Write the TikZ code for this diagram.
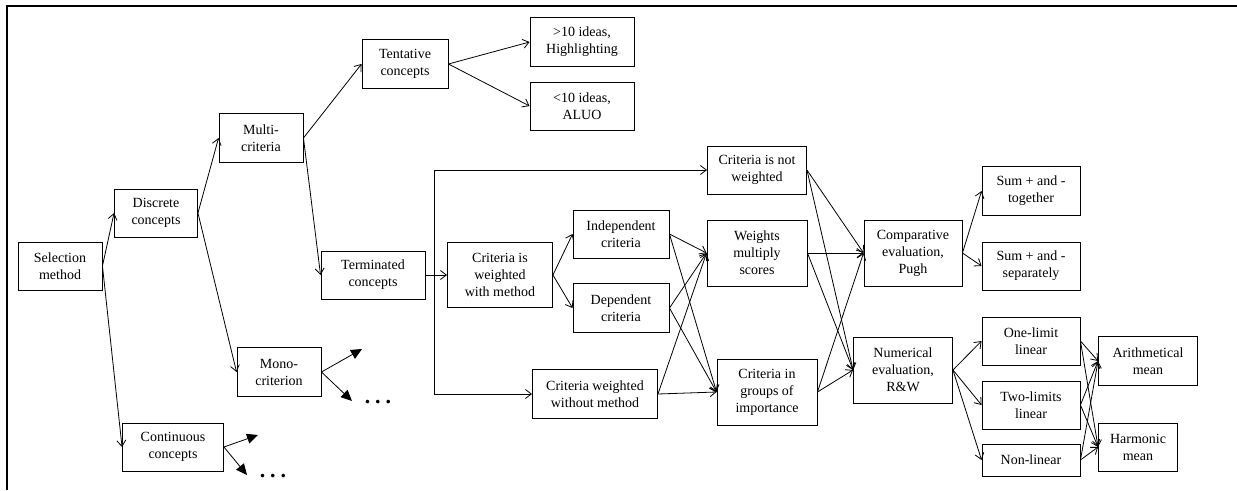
\documentclass[tikz,border=0pt]{standalone}
\usepackage{fontspec}
\setmainfont{Liberation Serif}
\usetikzlibrary{arrows.meta}
\begin{document}
\begin{tikzpicture}[x=1pt,y=-1pt,
  box/.style={draw, line width=0.9pt, inner sep=0pt, align=center,
    font=\fontsize{14}{17}\selectfont},
  conn/.style={line width=0.8pt, -{Straight Barb[length=6pt,width=9pt]}},
  bigarr/.style={line width=0.8pt, -{Triangle[length=11pt,width=10pt]}},
  dots/.style={inner sep=0pt, font=\fontsize{22}{22}\selectfont\bfseries}]
\useasboundingbox (0,0) rectangle (1237,490);
% frame
\draw[line width=1.2pt] (7,490) -- (7,6) -- (1237,6);
% nodes
\node[box, minimum width=84pt, minimum height=48pt] (sel) at (60,266) {Selection\\method};
\node[box, minimum width=83pt, minimum height=48pt] (disc) at (156,213) {Discrete\\concepts};
\node[box, minimum width=84pt, minimum height=49pt] (multi) at (261,138) {Multi-\\criteria};
\node[box, minimum width=86pt, minimum height=49pt] (tent) at (405,64) {Tentative\\concepts};
\node[box, minimum width=104pt, minimum height=49pt] (gt) at (582,42) {>10 ideas,\\Highlighting};
\node[box, minimum width=104pt, minimum height=48pt] (lt) at (582,106) {<10 ideas,\\ALUO};
\node[box, minimum width=104pt, minimum height=48pt] (term) at (373,275) {Terminated\\concepts};
\node[box, minimum width=84pt, minimum height=49pt] (mono) at (279,372) {Mono-\\criterion};
\node[box, minimum width=101pt, minimum height=48pt] (cont) at (173,447) {Continuous\\concepts};
\node[box, minimum width=105pt, minimum height=65pt] (cwm) at (500,275) {Criteria is\\weighted\\with method};
\node[box, minimum width=96pt, minimum height=48pt] (ind) at (621,234) {Independent\\criteria};
\node[box, minimum width=96pt, minimum height=49pt] (dep) at (621,308) {Dependent\\criteria};
\node[box, minimum width=125pt, minimum height=49pt] (cwo) at (595,394) {Criteria weighted\\without method};
\node[box, minimum width=99pt, minimum height=48pt] (cnw) at (757,170) {Criteria is not\\weighted};
\node[box, minimum width=100pt, minimum height=66pt] (wms) at (757,253) {Weights\\multiply\\scores};
\node[box, minimum width=100pt, minimum height=66pt] (cgi) at (767,392) {Criteria in\\groups of\\importance};
\node[box, minimum width=98pt, minimum height=66pt] (comp) at (913,253) {Comparative\\evaluation,\\Pugh};
\node[box, minimum width=99pt, minimum height=66pt] (num) at (903,370) {Numerical\\evaluation,\\R\&W};
\node[box, minimum width=98pt, minimum height=49pt] (sumt) at (1031,191) {Sum + and -\\together};
\node[box, minimum width=98pt, minimum height=48pt] (sums) at (1031,266) {Sum + and -\\separately};
\node[box, minimum width=98pt, minimum height=48pt] (one) at (1031,341) {One-limit\\linear};
\node[box, minimum width=98pt, minimum height=48pt] (two) at (1031,405) {Two-limits\\linear};
\node[box, minimum width=98pt, minimum height=32pt] (non) at (1031,460) {Non-linear};
\node[box, minimum width=99pt, minimum height=49pt] (ari) at (1148,361) {Arithmetical\\mean};
\node[box, minimum width=79pt, minimum height=48pt] (har) at (1138,447) {Harmonic\\mean};
% free ends
\coordinate (m1) at (362,349);
\coordinate (m2) at (352,401);
\coordinate (c1) at (258,435);
\coordinate (c2) at (247,475);
\node[dots, anchor=base] (d1) at (378,403) {.\hspace{5pt}.\hspace{5pt}.};
\node[dots, anchor=base] (d2) at (273,477) {.\hspace{5pt}.\hspace{5pt}.};
\coordinate (br) at (434,275);
% connectors
\draw[conn] (sel.east) -- (disc.west);
\draw[conn] (sel.east) -- (cont.west);
\draw[conn] (disc.east) -- (multi.west);
\draw[conn] (disc.east) -- (mono.west);
\draw[conn] (multi.east) -- (tent.west);
\draw[conn] (multi.east) -- (term.west);
\draw[conn] (tent.east) -- (gt.west);
\draw[conn] (tent.east) -- (lt.west);
\draw[bigarr] (mono.east) -- (m1);
\draw[bigarr] (mono.east) -- (m2);
\draw[bigarr] (cont.east) -- (c1);
\draw[bigarr] (cont.east) -- (c2);
\draw[conn] (term.east) -- (cwm.west);
\draw[conn] (br) |- (cnw.west);
\draw[conn] (br) |- (cwo.west);
\draw[conn] (cwm.east) -- (ind.west);
\draw[conn] (cwm.east) -- (dep.west);
\foreach \s in {ind,dep,cwo}{
  \draw[conn] (\s.east) -- (wms.west);
  \draw[conn] (\s.east) -- (cgi.west);
}
\foreach \s in {cnw,wms,cgi}{
  \draw[conn] (\s.east) -- (comp.west);
  \draw[conn] (\s.east) -- (num.west);
}
\draw[conn] (comp.east) -- (sumt.west);
\draw[conn] (comp.east) -- (sums.west);
\draw[conn] (num.east) -- (one.west);
\draw[conn] (num.east) -- (two.west);
\draw[conn] (num.east) -- (non.west);
\foreach \s in {one,two,non}{
  \draw[conn] (\s.east) -- (ari.west);
  \draw[conn] (\s.east) -- (har.west);
}
\end{tikzpicture}
\end{document}
